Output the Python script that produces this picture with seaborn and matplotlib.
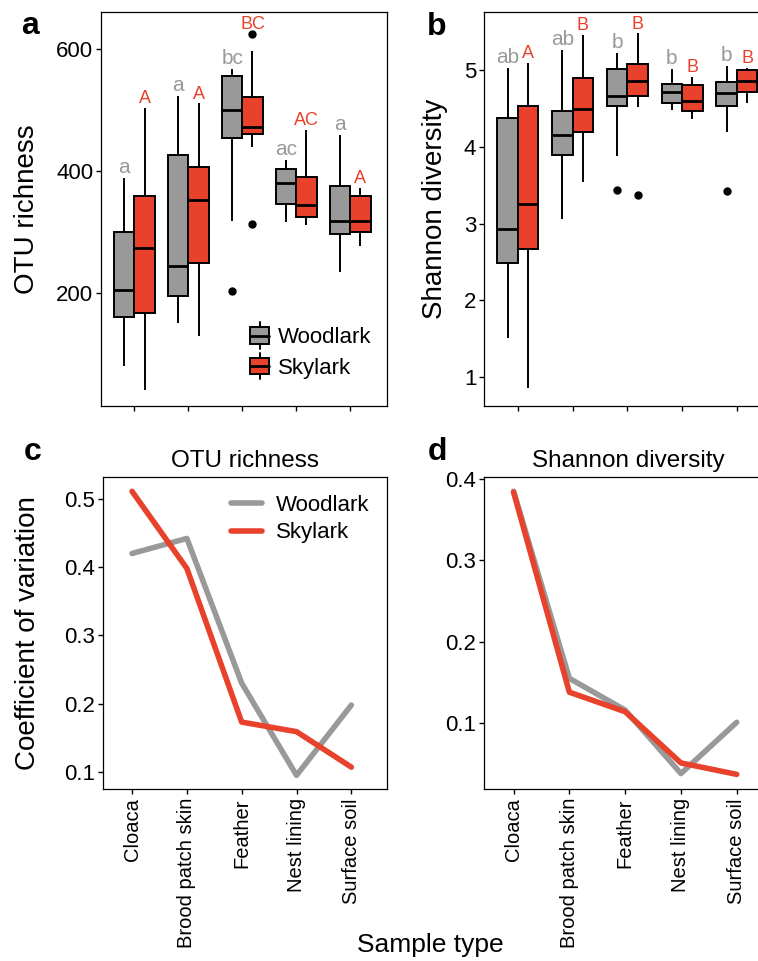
import numpy as np
import pandas as pd
import matplotlib
matplotlib.use("Agg")
import matplotlib.pyplot as plt
import matplotlib.patches as mpatches
from matplotlib.lines import Line2D
from matplotlib.legend_handler import HandlerBase
import seaborn as sns

# ---------------------------------------------------------------------------
# Data
# ---------------------------------------------------------------------------
SAMPLES = ["Cloaca", "Brood patch skin", "Feather", "Nest lining", "Surface soil"]
SPECIES = ["Woodlark", "Skylark"]
COLORS = {"Woodlark": "#999999", "Skylark": "#E8412C"}

# box stats per sample: (whisker low, q1, median, q3, whisker high)
RICH_WOOD = [(81, 161, 205, 300, 389), (151, 195, 245, 426, 523), (318, 455, 501, 556, 568),
             (316, 347, 380, 403, 419), (234, 297, 318, 376, 459)]
RICH_SKY = [(41, 167, 274, 359, 504), (129, 249, 352, 407, 511), (440, 461, 472, 522, 597),
            (311, 325, 345, 390, 468), (278, 300, 319, 359, 372)]
RICH_WOOD_OUT = [[], [], [204], [], []]
RICH_SKY_OUT = [[], [], [313, 625], [], []]
RICH_WOOD_LET = ["a", "a", "bc", "ac", "a"]
RICH_SKY_LET = ["A", "A", "BC", "AC", "A"]

SHAN_WOOD = [(1.51, 2.49, 2.93, 4.38, 5.03), (3.06, 3.90, 4.15, 4.47, 5.27), (3.88, 4.53, 4.67, 5.01, 5.23),
             (4.48, 4.57, 4.71, 4.82, 5.02), (4.20, 4.53, 4.70, 4.85, 5.06)]
SHAN_SKY = [(0.86, 2.67, 3.25, 4.54, 5.10), (3.54, 4.19, 4.50, 4.90, 5.46), (4.52, 4.67, 4.86, 5.08, 5.48),
            (4.36, 4.47, 4.60, 4.81, 4.91), (4.57, 4.71, 4.86, 5.00, 5.03)]
SHAN_WOOD_OUT = [[], [], [3.44], [], [3.43]]
SHAN_SKY_OUT = [[], [], [3.37], [], []]
SHAN_WOOD_LET = ["ab", "ab", "b", "b", "b"]
SHAN_SKY_LET = ["A", "B", "B", "B", "B"]

# coefficient of variation
CV_RICH_WOOD = [0.420, 0.442, 0.230, 0.095, 0.198]
CV_RICH_SKY = [0.511, 0.398, 0.173, 0.159, 0.107]
CV_SHAN_WOOD = [0.385, 0.155, 0.116, 0.038, 0.101]
CV_SHAN_SKY = [0.384, 0.138, 0.114, 0.051, 0.037]


def box_sample(stats, outliers):
    """9 values whose quartiles / whiskers reproduce the read-off box stats."""
    lo, q1, med, q3, hi = stats
    low = [o for o in outliers if o < q1]
    high = [o for o in outliers if o > q3]
    head = (low + [lo, lo])[:2]
    tail = ([hi, hi] + high)[-2:]
    return head + [q1, q1, med, q3, q3] + tail


def box_frame(wood, sky, wood_out, sky_out):
    rows = []
    for sp, stats, outs in [("Woodlark", wood, wood_out), ("Skylark", sky, sky_out)]:
        for s, st, o in zip(SAMPLES, stats, outs):
            for v in box_sample(st, o):
                rows.append({"sample": s, "species": sp, "value": v})
    return pd.DataFrame(rows)


def line_frame(wood, sky):
    rows = []
    for sp, vals in [("Woodlark", wood), ("Skylark", sky)]:
        for s, v in zip(SAMPLES, vals):
            rows.append({"sample": s, "species": sp, "cv": v})
    return pd.DataFrame(rows)


class BoxKey(HandlerBase):
    """Legend key drawn like a small boxplot (box + median + whisker stubs)."""
    def create_artists(self, legend, orig_handle, xdescent, ydescent, width, height, fontsize, trans):
        x0, y0 = -xdescent, -ydescent
        cx = x0 + width / 2
        inset = height * 0.08
        stem = Line2D([cx, cx], [y0 - 2.5, y0 + height + 2.5], color="black", lw=1.4, transform=trans)
        box = mpatches.Rectangle((x0, y0 + inset), width, height - 2 * inset,
                                 facecolor=orig_handle.get_facecolor(), edgecolor="black",
                                 lw=1.4, transform=trans)
        med = Line2D([x0, x0 + width], [y0 + height / 2] * 2, color="black", lw=2.0, transform=trans)
        return [stem, box, med]


# ---------------------------------------------------------------------------
# Style
# ---------------------------------------------------------------------------
sns.set_style("ticks")
plt.rcParams["font.family"] = ["Liberation Sans", "DejaVu Sans"]
plt.rcParams["axes.linewidth"] = 0.9
plt.rcParams["xtick.major.width"] = 1.0
plt.rcParams["ytick.major.width"] = 1.0
plt.rcParams["xtick.major.size"] = 3.5
plt.rcParams["ytick.major.size"] = 3.5
for key in ["xtick.color", "ytick.color", "axes.edgecolor", "text.color", "axes.labelcolor"]:
    plt.rcParams[key] = "black"

W, H = 758, 961
fig = plt.figure(figsize=(W / 100, H / 100), dpi=100)


def px_axes(left, top, right, bottom):
    return fig.add_axes([left / W, 1 - bottom / H, (right - left) / W, (bottom - top) / H])


def place_ylabel(ax, text, center_px, left_px, width_px):
    ax.set_ylabel(text, fontsize=20, va="center")
    ax.yaxis.set_label_coords((center_px - left_px) / width_px, 0.5)


ax_a = px_axes(101, 12, 387, 406)
ax_b = px_axes(484, 12, 774, 406)
ax_c = px_axes(103, 477, 387, 789)
ax_d = px_axes(484, 477, 773, 789)


def draw_boxes(ax, df, wood, sky, wood_out, sky_out, wood_let, sky_let, legend):
    sns.boxplot(data=df, x="sample", y="value", hue="species", order=SAMPLES, hue_order=SPECIES,
                palette=COLORS, saturation=1, width=0.75, gap=0, linecolor="black", linewidth=1.4,
                fliersize=5, showcaps=False,
                flierprops=dict(marker="o", markerfacecolor="black", markeredgecolor="black"),
                medianprops=dict(linewidth=2.0), legend=legend, ax=ax)
    for j, (stats, outs, lets, col, fs) in enumerate([
            (wood, wood_out, wood_let, COLORS["Woodlark"], 15),
            (sky, sky_out, sky_let, COLORS["Skylark"], 13)]):
        for i in range(len(SAMPLES)):
            top = max([stats[i][4]] + outs[i])
            ax.annotate(lets[i], (i + (j - 0.5) * 0.375, top), xytext=(0, 3.5),
                        textcoords="offset points", ha="center", va="baseline",
                        color=col, fontsize=fs)
    ax.set_xlim(-0.62, 4.68)
    ax.set_xlabel("")
    ax.set_xticklabels([])
    ax.tick_params(labelsize=16, pad=2)


draw_boxes(ax_a, box_frame(RICH_WOOD, RICH_SKY, RICH_WOOD_OUT, RICH_SKY_OUT),
           RICH_WOOD, RICH_SKY, RICH_WOOD_OUT, RICH_SKY_OUT, RICH_WOOD_LET, RICH_SKY_LET, True)
ax_a.set_ylim(15, 661)
ax_a.set_yticks([200, 400, 600])
place_ylabel(ax_a, "OTU richness", 27, 101, 286)
handles, labels = ax_a.get_legend_handles_labels()
ax_a.legend(handles, labels, handler_map={mpatches.Patch: BoxKey()},
            loc="lower right", bbox_to_anchor=(1.0, 0.03), frameon=False, fontsize=16,
            handlelength=0.85, handleheight=1.0, handletextpad=0.4, labelspacing=0.35,
            borderaxespad=0.3)

draw_boxes(ax_b, box_frame(SHAN_WOOD, SHAN_SKY, SHAN_WOOD_OUT, SHAN_SKY_OUT),
           SHAN_WOOD, SHAN_SKY, SHAN_WOOD_OUT, SHAN_SKY_OUT, SHAN_WOOD_LET, SHAN_SKY_LET, False)
ax_b.set_ylim(0.62, 5.76)
ax_b.set_yticks([1, 2, 3, 4, 5])
place_ylabel(ax_b, "Shannon diversity", 435, 484, 290)


def draw_lines(ax, df, title, legend):
    sns.lineplot(data=df, x="sample", y="cv", hue="species", hue_order=SPECIES, palette=COLORS,
                 linewidth=4, sort=False, legend=legend, ax=ax)
    ax.set_xlim(-0.53, 4.65)
    ax.set_xlabel("")
    ax.set_title(title, fontsize=17.5, pad=7)
    ax.tick_params(axis="y", labelsize=16, pad=2)
    ax.tick_params(axis="x", labelsize=14.5, pad=3, rotation=90)


draw_lines(ax_c, line_frame(CV_RICH_WOOD, CV_RICH_SKY), "OTU richness", True)
ax_c.set_ylim(0.075, 0.532)
ax_c.set_yticks([0.1, 0.2, 0.3, 0.4, 0.5])
place_ylabel(ax_c, "Coefficient of variation", 28, 103, 284)
ax_c.legend(loc="upper right", frameon=False, fontsize=16, handlelength=1.4,
            handletextpad=0.6, labelspacing=0.3, borderaxespad=0.4)

draw_lines(ax_d, line_frame(CV_SHAN_WOOD, CV_SHAN_SKY), "Shannon diversity", False)
ax_d.set_ylim(0.019, 0.4025)
ax_d.set_yticks([0.1, 0.2, 0.3, 0.4])
ax_d.set_ylabel("")

for ax in (ax_c, ax_d):
    ax.set_yticklabels([f"{t:.1f}" for t in ax.get_yticks()])

# panel letters and shared x label
for lab, x, y in [("a", 30, 26), ("b", 437, 27), ("c", 33, 452), ("d", 437, 452)]:
    fig.text(x / W, 1 - y / H, lab, fontsize=23, fontweight="bold", ha="center", va="center")
fig.text(430 / W, 1 - 945 / H, "Sample type", fontsize=19, ha="center", va="center")

fig.savefig("out.png", dpi=100)
